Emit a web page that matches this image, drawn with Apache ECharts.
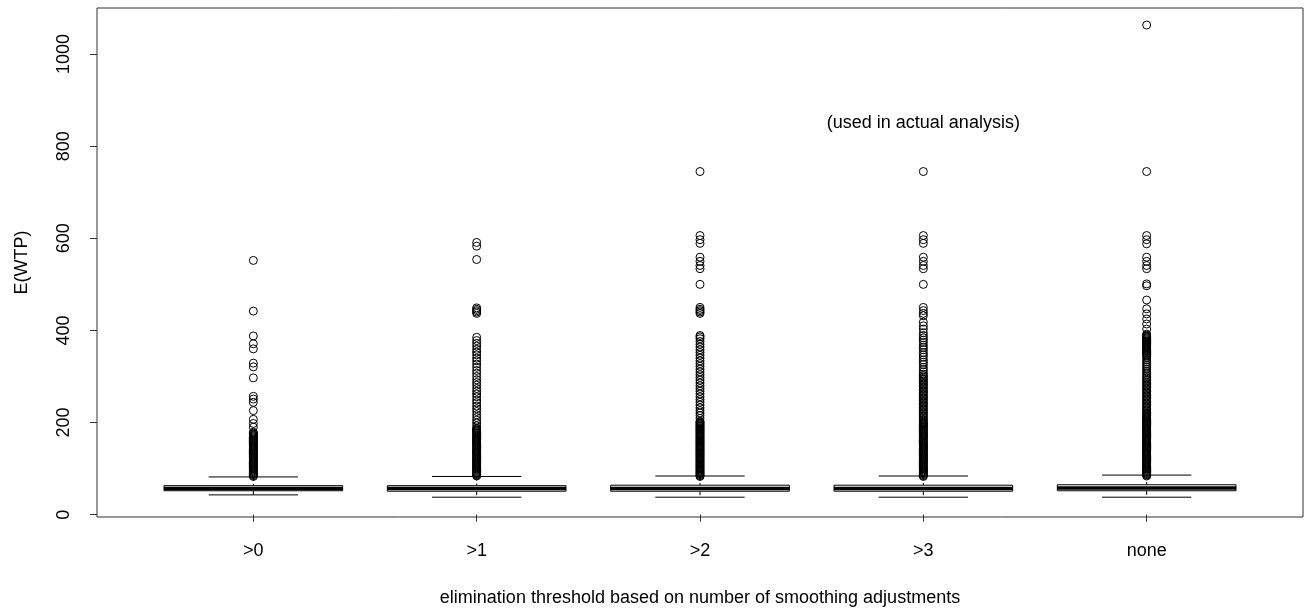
<!DOCTYPE html>
<html lang="en" style="height: 100%;margin: 0;background-color: #ffffff;">
<head>
    <meta charset="UTF-8">
    <title>chart</title>
</head>
<body style="height: 100%;margin: 0;background-color: #ffffff;">
<div id="chart" style="width: 1312px;height: 612px;margin: 0;"></div>
<script src="https://cdn.jsdelivr.net/npm/echarts@6/dist/echarts.min.js"></script>
<script>
    // categories on the x axis
    var categories = [">0", ">1", ">2", ">3", "none"];
    var yTicks = [0, 200, 400, 600, 800, 1000];

    // box stats per category: lower whisker, Q1, median, Q3, upper whisker
    var lowWhisker = [43, 38, 38, 38, 38];
    var q1 = [52, 51, 51, 51, 52];
    var median = [57, 57, 57, 57, 58];
    var q3 = [63, 63, 64, 64, 65];
    var highWhisker = [82, 83, 84, 84, 86];

    // outliers (the low part is a solid column of circles)
    var out0 = [83, 85, 87, 89, 91, 93, 95, 97, 99, 101, 103, 105, 107, 109, 111, 113, 115, 117, 119, 121, 123, 125, 127, 129,
        131, 133, 135, 137, 139, 141, 143, 145, 147, 149, 151, 153, 155, 157, 159, 161, 163, 165, 167, 169, 171, 173, 175, 177, 179,
        190, 198, 207, 226, 244, 251, 257, 297, 321, 329, 360, 371, 388, 442, 552];
    var out1 = [84, 86, 88, 90, 92, 94, 96, 98, 100, 102, 104, 106, 108, 110, 112, 114, 116, 118, 120, 122, 124, 126, 128, 130,
        132, 134, 136, 138, 140, 142, 144, 146, 148, 150, 152, 154, 156, 158, 160, 162, 164, 166, 168, 170, 172, 174, 176, 178,
        180, 182, 184, 186, 188,
        193, 199, 205, 211, 217, 224, 230, 236, 243, 249, 256, 262, 268, 274, 281, 287, 293, 300, 307, 313, 320, 327, 334, 340,
        347, 353, 359, 366, 372, 378, 385,
        437, 440, 443, 446, 449, 554, 583, 591];
    var out2 = [83, 85, 87, 89, 91, 93, 95, 97, 99, 101, 103, 105, 107, 109, 111, 113, 115, 117, 119, 121, 123, 125, 127, 129,
        131, 133, 135, 137, 139, 141, 143, 145, 147, 149, 151, 153, 155, 157, 159, 161, 163, 165, 167, 169, 171, 173, 175, 177,
        179, 181, 183, 185, 187, 189, 191, 193, 195, 197, 199, 201, 203,
        209, 215, 221, 226, 232, 238, 244, 250, 256, 262, 268, 274, 280, 286, 292, 298, 304, 310, 316, 322, 328, 334, 340, 346,
        352, 358, 364, 370, 376, 382, 386, 389,
        437, 440, 443, 446, 450, 500, 534, 541, 550, 559, 589, 597, 606, 745];
    var out3 = [83, 85, 87, 89, 91, 93, 95, 97, 99, 101, 103, 105, 107, 109, 111, 113, 115, 117, 119, 121, 123, 125, 127, 129,
        131, 133, 135, 137, 139, 141, 143, 145, 147, 149, 151, 153, 155, 157, 159, 161, 163, 165, 167, 169, 171, 173, 175, 177,
        179, 181, 183, 185, 187, 189, 191, 193, 195, 197, 199, 201, 203,
        206, 209, 212, 215, 218, 221, 224, 227, 230, 233, 236, 239, 242, 245, 248, 251, 254, 257, 260, 263, 266, 269, 272, 275,
        278, 281, 284, 287, 290, 293, 296, 299, 302, 305,
        310, 315, 320, 326, 331, 336, 342, 347, 352, 358, 363, 368, 374, 379, 384, 389, 395, 403, 410, 418,
        432, 437, 443, 450, 500, 534, 541, 550, 559, 589, 597, 606, 745];
    var out4 = [84, 86, 88, 90, 92, 94, 96, 98, 100, 102, 104, 106, 108, 110, 112, 114, 116, 118, 120, 122, 124, 126, 128, 130,
        132, 134, 136, 138, 140, 142, 144, 146, 148, 150, 152, 154, 156, 158, 160, 162, 164, 166, 168, 170, 172, 174, 176, 178,
        180, 182, 184, 186, 188, 190, 192, 194, 196, 198, 200, 202, 204, 206, 208, 210, 212, 214, 216, 218, 220, 222,
        225, 228, 231, 234, 237, 240, 243, 246, 249, 252, 255, 258, 261, 264, 267, 270, 273, 276, 279, 282, 285, 288, 291, 294,
        297, 300,
        304, 308, 312, 316, 320, 324, 328, 332, 336, 340, 344,
        346, 348, 350, 352, 354, 356, 358, 360, 362, 364, 366, 368, 370, 372, 374, 376, 378, 380, 382, 384, 386, 388, 390, 392,
        403, 414, 425, 436, 447, 466, 497, 501, 534, 541, 550, 559, 588, 597, 606, 745, 1063];
    var outliers = [out0, out1, out2, out3, out4];

    var noteText = "(used in actual analysis)";
    var noteAt = [4, 850];

    var chart = echarts.init(document.getElementById("chart"), null, {renderer: 'canvas'});

    var boxData = [];
    for (var i = 0; i < categories.length; i++) {
        boxData.push([i + 1, lowWhisker[i], q1[i], median[i], q3[i], highWhisker[i]]);
    }
    var outData = [];
    for (var j = 0; j < outliers.length; j++) {
        for (var k = 0; k < outliers[j].length; k++) {
            outData.push([j + 1, outliers[j][k]]);
        }
    }

    function renderBox(params, api) {
        var x = api.value(0);
        var pLo = api.coord([x, api.value(1)]);
        var pQ1 = api.coord([x, api.value(2)]);
        var pMed = api.coord([x, api.value(3)]);
        var pQ3 = api.coord([x, api.value(4)]);
        var pHi = api.coord([x, api.value(5)]);
        var halfBox = api.size([0.4, 0])[0];
        var halfStaple = api.size([0.2, 0])[0];
        var cx = pMed[0];
        var thin = {stroke: '#000', lineWidth: 1, fill: null};
        var dashed = {stroke: '#000', lineWidth: 1, lineDash: [4, 3], fill: null};
        return {
            type: 'group',
            children: [
                {type: 'line', shape: {x1: cx, y1: pHi[1], x2: cx, y2: pQ3[1]}, style: dashed},
                {type: 'line', shape: {x1: cx, y1: pQ1[1], x2: cx, y2: pLo[1]}, style: dashed},
                {type: 'line', shape: {x1: cx - halfStaple, y1: pHi[1], x2: cx + halfStaple, y2: pHi[1]}, style: thin},
                {type: 'line', shape: {x1: cx - halfStaple, y1: pLo[1], x2: cx + halfStaple, y2: pLo[1]}, style: thin},
                {type: 'rect', shape: {x: cx - halfBox, y: pQ3[1], width: halfBox * 2, height: pQ1[1] - pQ3[1]},
                    style: {stroke: '#000', lineWidth: 1, fill: '#fff'}},
                {type: 'line', shape: {x1: cx - halfBox, y1: pMed[1], x2: cx + halfBox, y2: pMed[1]},
                    style: {stroke: '#000', lineWidth: 3.5}}
            ]
        };
    }

    var font = "'Liberation Sans', Arial, sans-serif";

    var option = {
        backgroundColor: '#fff',
        animation: false,
        textStyle: {fontFamily: font},
        grid: {
            left: 97, right: 9, top: 8, bottom: 95,
            show: true, borderColor: '#333', borderWidth: 1, backgroundColor: 'transparent'
        },
        xAxis: {
            type: 'value',
            min: 0.3,
            max: 5.7,
            name: 'elimination threshold based on number of smoothing adjustments',
            nameLocation: 'middle',
            nameGap: 72,
            nameTextStyle: {fontSize: 18, color: '#000', fontFamily: font},
            axisLine: {show: false},
            splitLine: {show: false},
            axisTick: {show: true, customValues: [1, 2, 3, 4, 5], length: 7, lineStyle: {color: '#333'}},
            axisLabel: {
                customValues: [1, 2, 3, 4, 5],
                fontSize: 18,
                color: '#000',
                margin: 25,
                formatter: function (v) {
                    return categories[Math.round(v) - 1] || '';
                }
            }
        },
        yAxis: {
            type: 'value',
            min: -5,
            max: 1100,
            name: 'E(WTP)',
            nameLocation: 'middle',
            nameGap: 66,
            nameTextStyle: {fontSize: 18, color: '#000', fontFamily: font},
            axisLine: {show: false},
            splitLine: {show: false},
            axisTick: {show: true, customValues: yTicks, length: 7, lineStyle: {color: '#333'}},
            axisLabel: {
                customValues: yTicks,
                rotate: 90,
                fontSize: 18,
                color: '#000',
                margin: 24,
                formatter: function (v) {
                    return String(v);
                }
            }
        },
        series: [
            {
                type: 'custom',
                renderItem: renderBox,
                data: boxData,
                encode: {x: 0, y: [1, 2, 3, 4, 5]},
                z: 2
            },
            {
                type: 'scatter',
                symbol: 'circle',
                symbolSize: 8,
                itemStyle: {color: 'transparent', borderColor: '#000', borderWidth: 1, opacity: 1},
                data: outData,
                z: 3
            },
            {
                type: 'scatter',
                symbolSize: 0,
                silent: true,
                itemStyle: {opacity: 1},
                data: [noteAt],
                label: {
                    show: true,
                    position: [0, 0],
                    align: 'center',
                    verticalAlign: 'middle',
                    formatter: noteText,
                    fontSize: 18,
                    color: '#000',
                    fontFamily: font
                },
                z: 4
            }
        ]
    };
    chart.setOption(option, true);
</script>
</body>
</html>
